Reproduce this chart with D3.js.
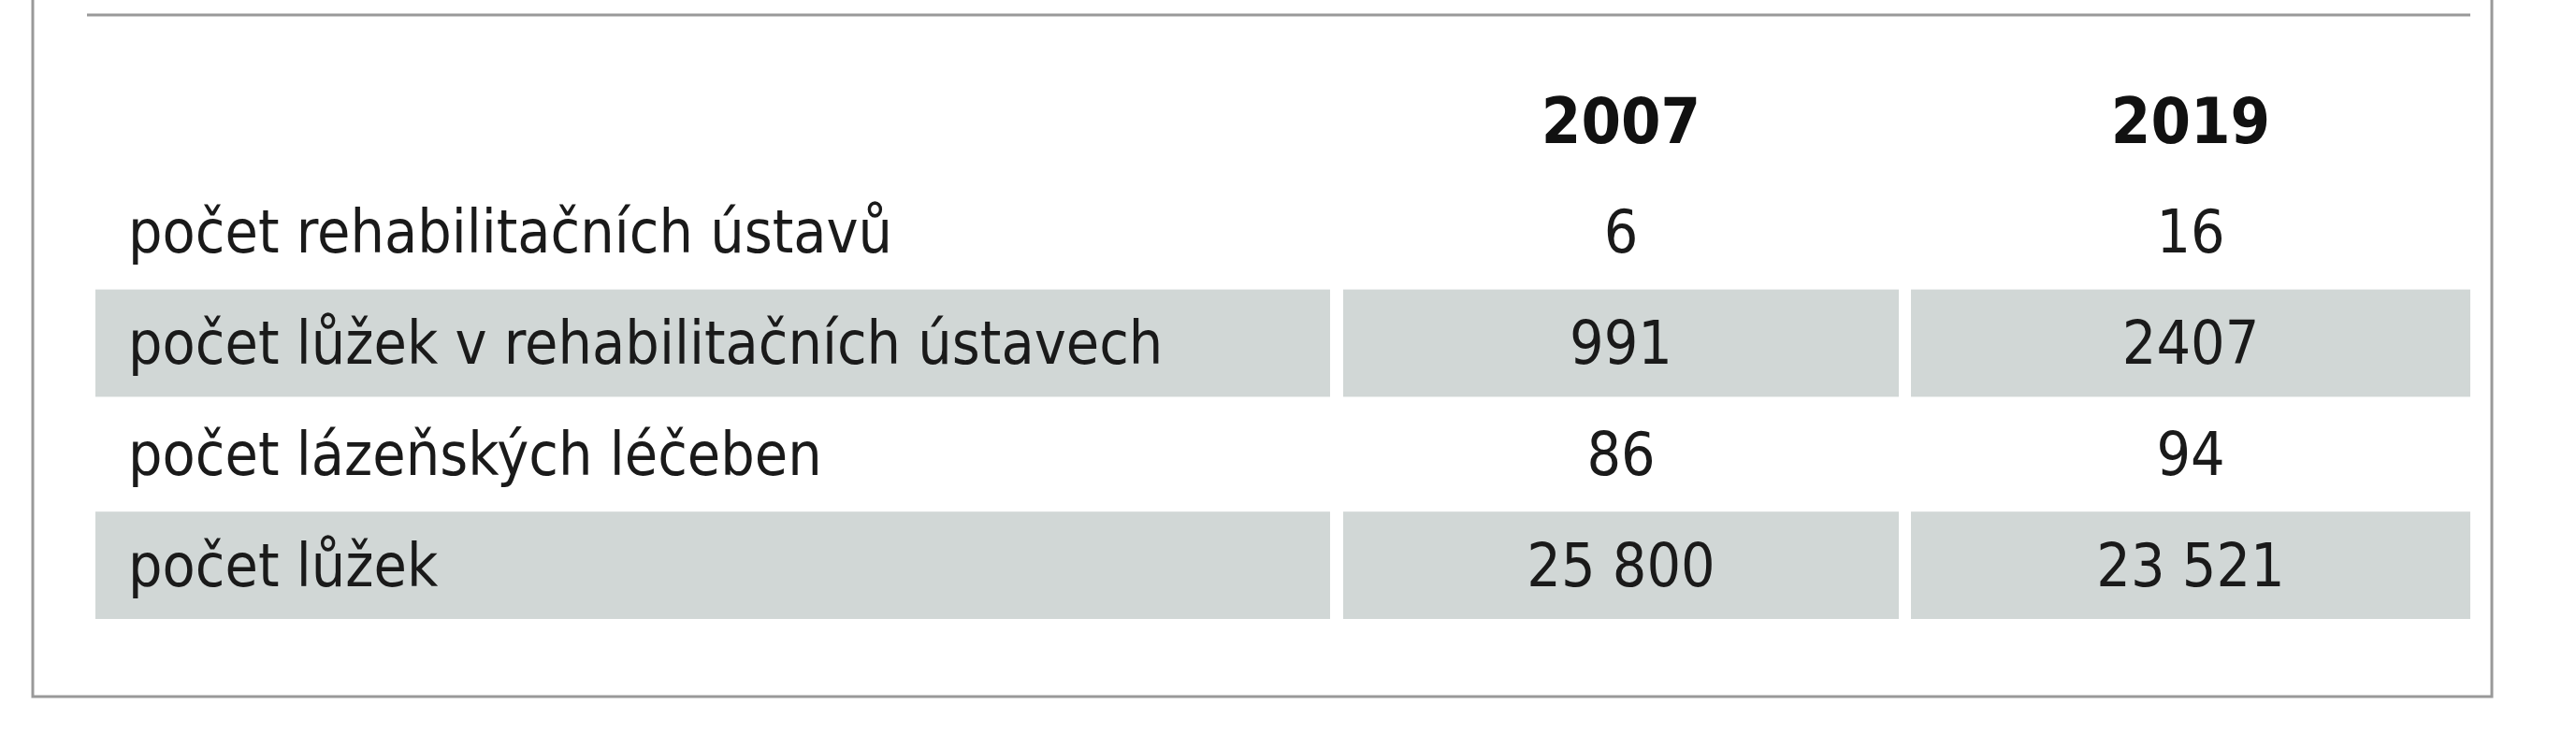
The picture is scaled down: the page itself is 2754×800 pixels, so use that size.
<!DOCTYPE html>
<html><head><meta charset="utf-8">
<script src="https://cdn.jsdelivr.net/npm/d3@7"></script>
<style>body{margin:0;background:#fff}</style></head>
<body><svg id="c" width="2754" height="800"></svg>
<script>
const years = ["2007", "2019"];
const rowLabels = ["počet rehabilitačních ústavů","počet lůžek v rehabilitačních ústavech","počet lázeňských léčeben","počet lůžek"];
const values2007 = ["6","991","86","25 800"];
const values2019 = ["16","2407","94","23 521"];

const svg = d3.select("#c");
const font = "'Liberation Sans Narrow','DejaVu Sans Condensed',sans-serif";
// frame
svg.append("path").attr("d","M35,0V745H2664V0").attr("fill","none").attr("stroke","#999").attr("stroke-width",3);
svg.append("line").attr("x1",93).attr("x2",2641).attr("y1",16).attr("y2",16).attr("stroke","#999").attr("stroke-width",3);

const y = d3.scaleBand().domain(["h",...rowLabels]).range([70,664]).paddingInner(0);
const cols = [[102,1422],[1436,2030],[2043,2641]];
const g = svg.append("g");
rowLabels.forEach((lab,i)=>{
  const yy = y(lab), h = y.bandwidth();
  if(i%2===1){
    cols.forEach(c=>g.append("rect").attr("x",c[0]).attr("y",yy+2).attr("width",c[1]-c[0]).attr("height",h-4).attr("fill","#d1d7d6"));
  }
  const ty = yy+h/2+22;
  g.append("text").attr("x",137).attr("y",ty).text(lab).attr("font-family",font).attr("font-size",64).attr("fill","#1a1a1a");
  [values2007[i],values2019[i]].forEach((v,j)=>{
    const c = cols[j+1];
    g.append("text").attr("x",(c[0]+c[1])/2).attr("y",ty).attr("text-anchor","middle").text(v).attr("font-family",font).attr("font-size",64).attr("fill","#1a1a1a");
  });
});
years.forEach((yr,j)=>{
  const c = cols[j+1];
  g.append("text").attr("x",(c[0]+c[1])/2).attr("y",y("h")+y.bandwidth()/2+24).attr("text-anchor","middle").text(yr).attr("font-family",font).attr("font-weight","bold").attr("font-size",68).attr("fill","#111");
});
</script></body></html>
